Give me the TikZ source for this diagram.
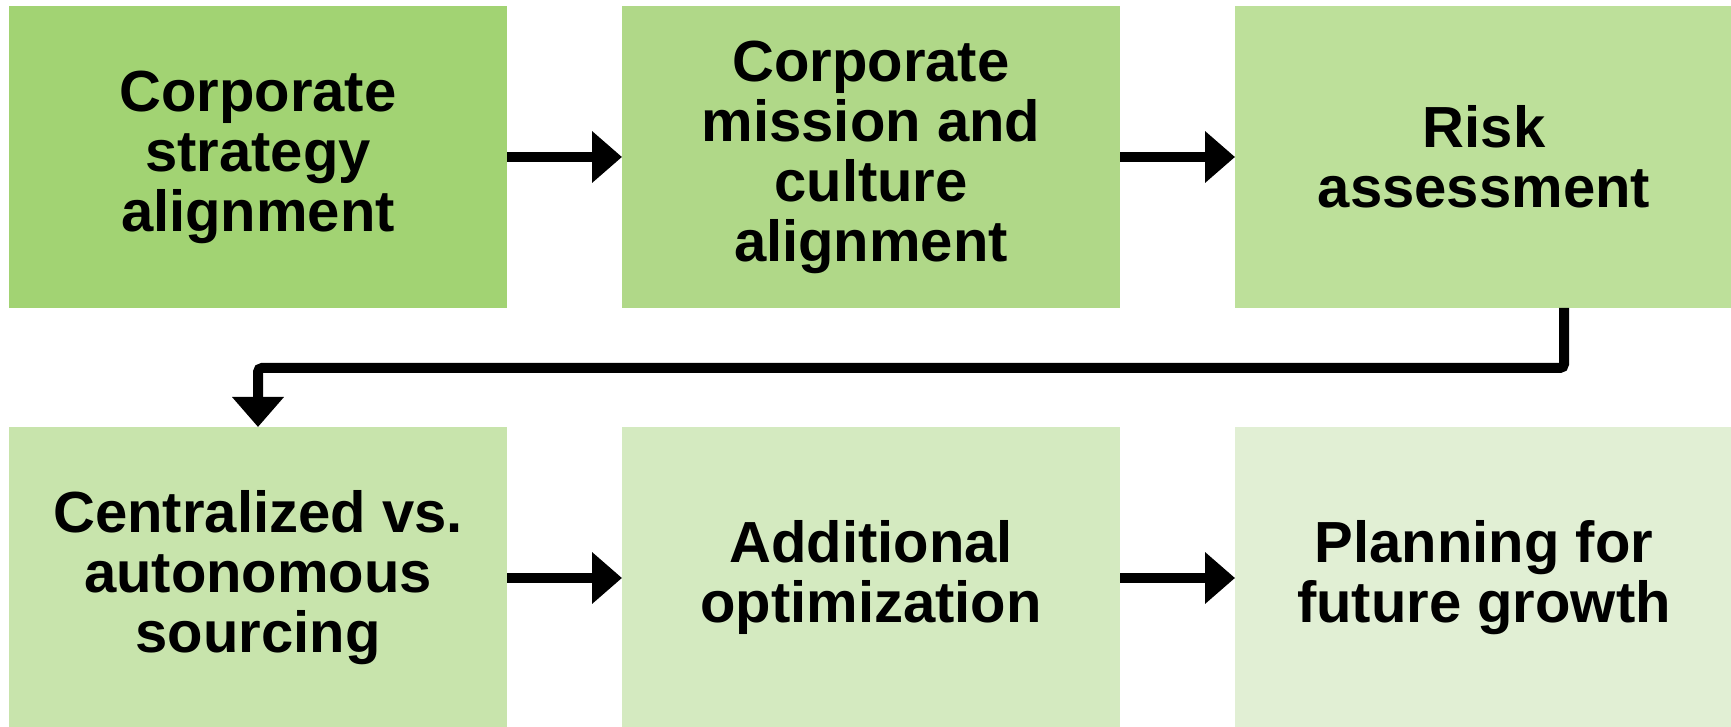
\documentclass[tikz,border=0pt]{standalone}
\usepackage{fontspec}
\setmainfont{Liberation Sans}
\usepackage{xcolor}
\usepackage{tikz}
\usetikzlibrary{
  arrows.meta,
  positioning
}

\definecolor{green-1}{HTML}{A2D373}
\definecolor{green-2}{HTML}{B0D888}
\definecolor{green-3}{HTML}{BDE09A}
\definecolor{green-4}{HTML}{C8E4AC}
\definecolor{green-5}{HTML}{D4EAC0}
\definecolor{green-6}{HTML}{E1EFD4}

\begin{document}
\begin{tikzpicture}[
  node distance=57.5pt,
  stage/.style={
    rectangle,
    text centered,
    align=center,
    minimum width=249pt,
    minimum height=151pt,
    inner sep=0pt,
    outer sep=0pt,
    font=\fontsize{29}{30}\selectfont\bfseries
  },
  flow/.style={
    line width=5pt,
    -{Triangle[width=25pt,length=15pt]}
  }
]

\useasboundingbox (0,0) rectangle (865.5pt,-363.5pt);

\node[stage, fill=green-1] (strategy-alignment) at (129pt,-78.5pt)
  {Corporate\\strategy\\alignment};
\node[stage, fill=green-2, right=of strategy-alignment] (mission-alignment)
  {Corporate\\mission and\\culture\\alignment};
\node[stage, fill=green-3, right=of mission-alignment] (risk-assessment)
  {Risk\\assessment};

\node[stage, fill=green-4, below=59.5pt of strategy-alignment] (sourcing-model)
  {Centralized vs.\\autonomous\\sourcing};
\node[stage, fill=green-5, right=of sourcing-model] (extra-optimization)
  {Additional\\optimization};
\node[stage, fill=green-6, right=of extra-optimization] (growth-planning)
  {Planning for\\future growth};

\draw[flow] (strategy-alignment) -- (mission-alignment);
\draw[flow] (mission-alignment) -- (risk-assessment);
\draw[flow] (sourcing-model) -- (extra-optimization);
\draw[flow] (extra-optimization) -- (growth-planning);

% elbow back to the second row
\coordinate (turn-start) at ([xshift=40pt]risk-assessment.south);
\coordinate (turn-level) at ([yshift=-30pt]turn-start);
\draw[flow, rounded corners=2pt] (turn-start) -- (turn-level)
  -- (turn-level -| sourcing-model.north) -- (sourcing-model.north);

\end{tikzpicture}
\end{document}
